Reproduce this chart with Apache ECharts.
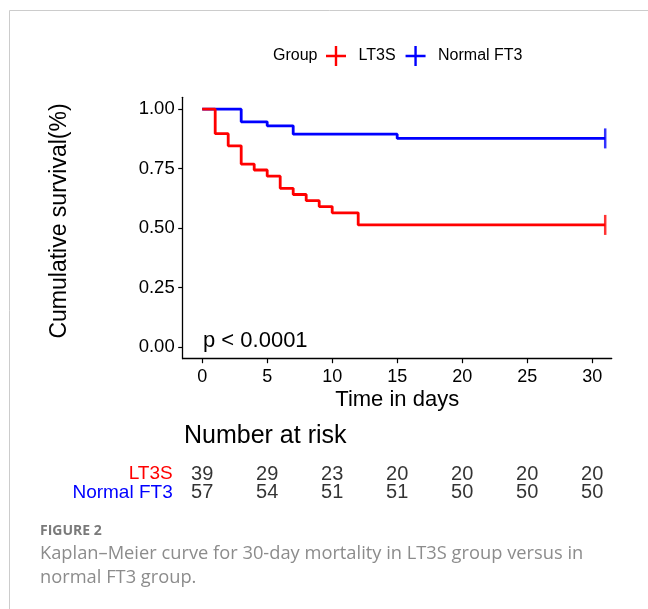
<!DOCTYPE html>
<html>
<head>
<meta charset="utf-8">
<script src="https://cdn.jsdelivr.net/npm/echarts@6/dist/echarts.min.js"></script>
<style>
html,body{margin:0;padding:0;background:#fff;}
#c{width:648px;height:609px;}
</style>
</head>
<body>
<div id="c"></div>
<script>
// ---- data ----
const groups = ['LT3S', 'Normal FT3'];
const lt3sTimes = [0, 1, 2, 3, 4, 5, 6, 7, 8, 9, 10, 12, 31];
const lt3sSurv = [1.0, 0.897, 0.846, 0.769, 0.744, 0.718, 0.667, 0.641, 0.615, 0.590, 0.564, 0.513, 0.513];
const normTimes = [0, 3, 5, 7, 15, 31];
const normSurv = [1.0, 0.947, 0.930, 0.895, 0.877, 0.877];
const censorTime = 31;
const xTicks = [0, 5, 10, 15, 20, 25, 30];
const yTicks = [0, 0.25, 0.5, 0.75, 1.0];
const riskTimes = [0, 5, 10, 15, 20, 25, 30];
const riskLT3S = [39, 29, 23, 20, 20, 20, 20];
const riskNormal = [57, 54, 51, 51, 50, 50, 50];
const pText = 'p < 0.0001';

const FONT = 'Liberation Sans';
const colors = {'LT3S': '#FF0000', 'Normal FT3': '#0000FF'};

const chart = echarts.init(document.getElementById('c'), null, {renderer: 'canvas'});

const plotLeft = 182.7, plotWidth = 429, plotTop = 97.3, plotHeight = 261.4;

function zip(a, b) { return a.map((v, i) => [v, b[i]]); }

const riskData = [];
riskTimes.forEach((t, i) => {
  riskData.push([t, 0, riskLT3S[i]]);
  riskData.push([t, 1, riskNormal[i]]);
});

const plusIcon = 'path://M0,4.4h10v1.2h-10z M4.4,0h1.2v10h-1.2z';

const option = {
  backgroundColor: '#fff',
  animation: false,
  textStyle: {fontFamily: FONT},
  legend: {
    data: groups,
    left: 326, top: 46, padding: 0,
    icon: plusIcon,
    itemWidth: 21, itemHeight: 20,
    itemGap: 10,
    textStyle: {fontFamily: FONT, fontSize: 16, color: '#000', padding: [0, 0, 0, 7]}
  },
  grid: [
    {left: plotLeft, top: plotTop, width: plotWidth, height: plotHeight},
    {left: plotLeft, top: 465, width: plotWidth, height: 37}
  ],
  xAxis: [
    {
      type: 'value', gridIndex: 0, min: -1.5, max: 31.5,
      axisLine: {show: true, onZero: false, lineStyle: {color: '#000', width: 1.3}},
      axisTick: {show: true, customValues: xTicks, length: 4.5, lineStyle: {color: '#000', width: 1.2}},
      axisLabel: {customValues: xTicks, fontSize: 18, color: '#000', margin: 9, fontFamily: FONT},
      splitLine: {show: false},
      name: 'Time in days', nameLocation: 'middle', nameGap: 30,
      nameTextStyle: {fontSize: 22, color: '#000', fontFamily: FONT}
    },
    {
      type: 'value', gridIndex: 1, min: -1.5, max: 31.5,
      show: false
    }
  ],
  yAxis: [
    {
      type: 'value', gridIndex: 0, min: -0.05, max: 1.05,
      axisLine: {show: true, onZero: false, lineStyle: {color: '#000', width: 1.3}},
      axisTick: {show: true, customValues: yTicks, length: 4.5, lineStyle: {color: '#000', width: 1.2}},
      axisLabel: {customValues: yTicks, fontSize: 18.5, color: '#000', margin: 8, fontFamily: FONT,
        formatter: v => Number(v).toFixed(2)},
      splitLine: {show: false}
    },
    {
      type: 'category', gridIndex: 1, data: groups, inverse: true,
      axisLine: {show: false}, axisTick: {show: false}, splitLine: {show: false},
      axisLabel: {fontSize: 19, margin: 10, fontFamily: FONT, interval: 0,
        color: (v) => colors[v] || '#000'}
    }
  ],
  series: [
    {
      name: 'LT3S', type: 'line', step: 'end', xAxisIndex: 0, yAxisIndex: 0,
      data: zip(lt3sTimes, lt3sSurv), showSymbol: false, symbol: 'none',
      lineStyle: {color: colors['LT3S'], width: 2.8}, itemStyle: {color: colors['LT3S']}, z: 3
    },
    {
      name: 'Normal FT3', type: 'line', step: 'end', xAxisIndex: 0, yAxisIndex: 0,
      data: zip(normTimes, normSurv), showSymbol: false, symbol: 'none',
      lineStyle: {color: colors['Normal FT3'], width: 2.8}, itemStyle: {color: colors['Normal FT3']}, z: 2
    },
    {
      name: 'censor-LT3S', type: 'scatter', xAxisIndex: 0, yAxisIndex: 0,
      data: [[censorTime, lt3sSurv[lt3sSurv.length - 1]]],
      symbol: 'rect', symbolSize: [2.5, 20], itemStyle: {color: colors['LT3S']}, z: 4
    },
    {
      name: 'censor-Normal', type: 'scatter', xAxisIndex: 0, yAxisIndex: 0,
      data: [[censorTime, normSurv[normSurv.length - 1]]],
      symbol: 'rect', symbolSize: [2.5, 20], itemStyle: {color: colors['Normal FT3']}, z: 4
    },
    {
      name: 'risk', type: 'scatter', xAxisIndex: 1, yAxisIndex: 1,
      data: riskData, symbolSize: 2, itemStyle: {color: 'rgba(0,0,0,0)'},
      label: {show: true, position: 'inside', formatter: p => String(p.value[2]),
        fontSize: 20, color: '#000', fontFamily: FONT}
    }
  ],
  graphic: [
    {type: 'rect', shape: {x: 9.5, y: 10.5, width: 800, height: 800},
      style: {fill: 'none', stroke: '#cccccc', lineWidth: 1}, silent: true},
    {type: 'text', x: 273, y: 56, style: {text: 'Group', font: '16px "Liberation Sans"', fill: '#000', textVerticalAlign: 'middle'}},
    {type: 'text', x: 60, y: 221, rotation: Math.PI / 2,
      style: {text: 'Cumulative survival(%)', font: '23px "Liberation Sans"', fill: '#000', textAlign: 'center', textVerticalAlign: 'middle'}},
    {type: 'text', x: 203, y: 341, style: {text: pText, font: '22px "Liberation Sans"', fill: '#000', textVerticalAlign: 'middle'}},
    {type: 'text', x: 184, y: 436, style: {text: 'Number at risk', font: '25px "Liberation Sans"', fill: '#000', textVerticalAlign: 'middle'}},
    {type: 'text', x: 40, y: 531, style: {text: 'FIGURE 2', font: 'bold 14px "Open Sans"', fill: '#7a7a7a', textVerticalAlign: 'middle'}},
    {type: 'text', x: 40, y: 554, style: {text: 'Kaplan\u2013Meier curve for 30-day mortality in LT3S group versus in', font: '18.3px "Open Sans"', fill: '#8c8c8c', textVerticalAlign: 'middle'}},
    {type: 'text', x: 40, y: 578, style: {text: 'normal FT3 group.', font: '18.3px "Open Sans"', fill: '#8c8c8c', textVerticalAlign: 'middle'}}
  ]
};
chart.setOption(option);
</script>
</body>
</html>
